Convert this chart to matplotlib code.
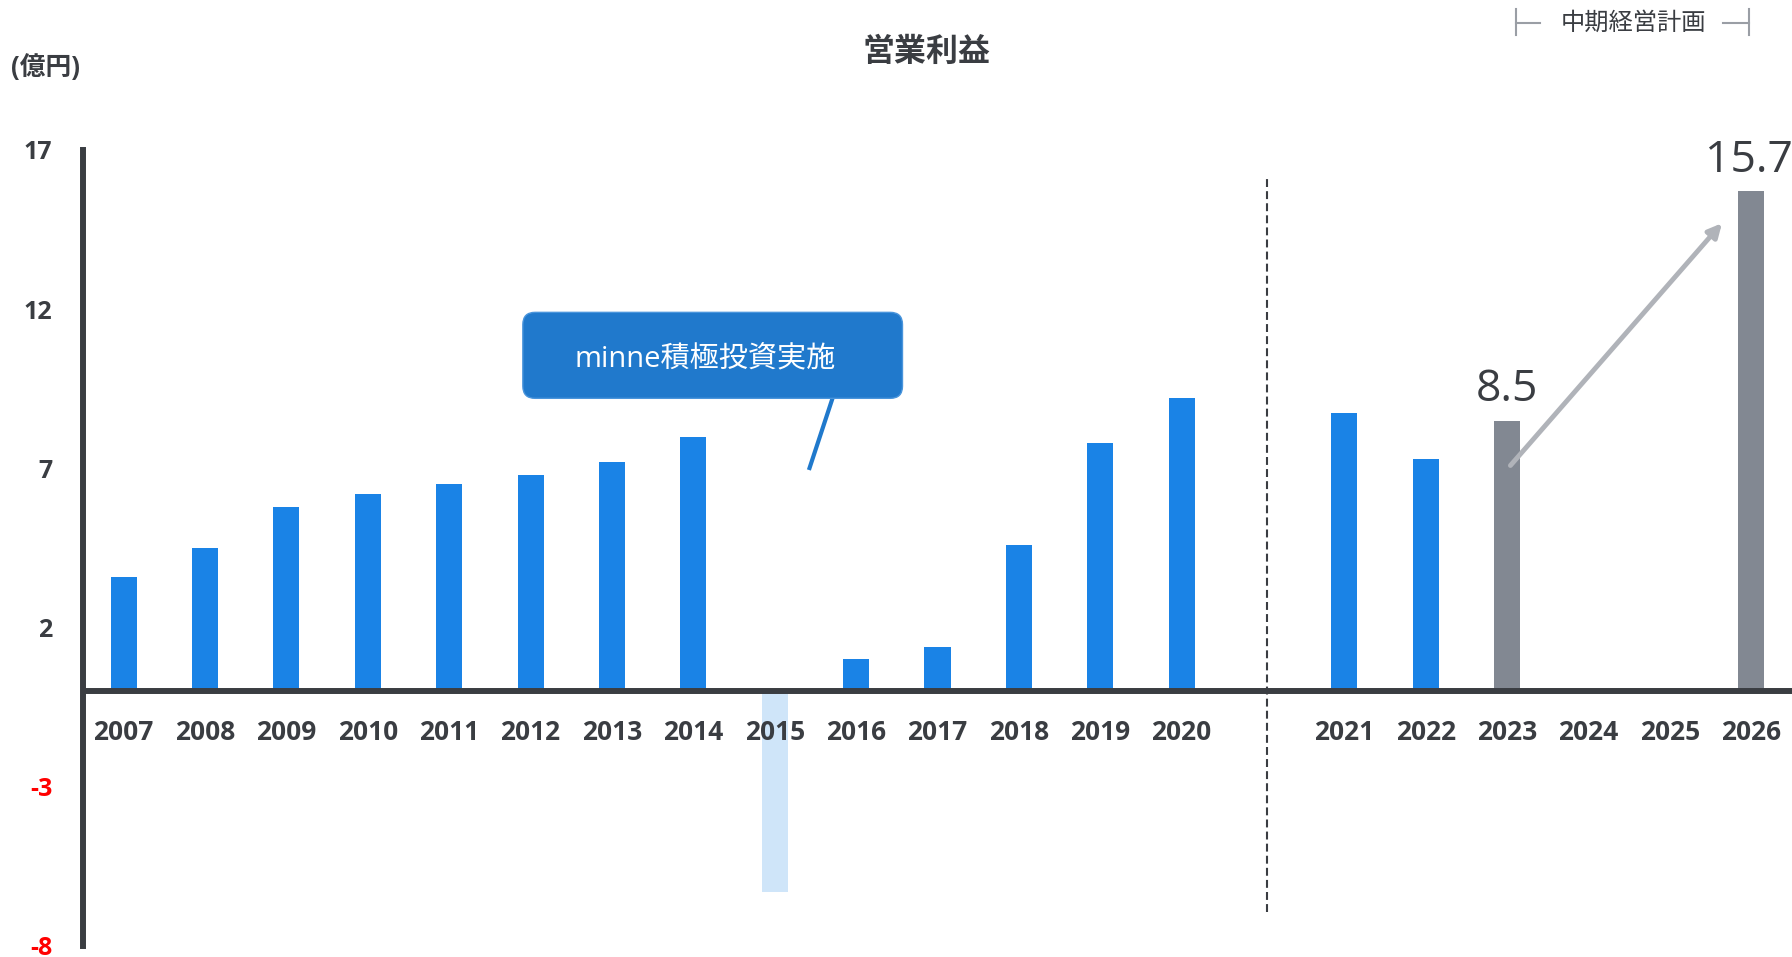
import matplotlib.pyplot as plt
from matplotlib.patches import FancyBboxPatch

plt.rcParams['font.family'] = ['Open Sans', 'Noto Sans CJK JP', 'DejaVu Sans']

# data (億円)
years = ['2007', '2008', '2009', '2010', '2011', '2012', '2013', '2014', '2015', '2016',
         '2017', '2018', '2019', '2020', '', '2021', '2022', '2023', '2024', '2025', '2026']
profit = [3.6, 4.5, 5.8, 6.2, 6.5, 6.8, 7.2, 8.0, -6.3, 1.0,
          1.4, 4.6, 7.8, 9.2, 0, 8.75, 7.3, 8.5, 0, 0, 15.7]
kind = ['actual'] * 8 + ['loss'] + ['actual'] * 5 + ['gap'] + ['actual'] * 2 + ['plan'] * 4
yticks = [17, 12, 7, 2, -3, -8]

colors = {'actual': '#1a83e6', 'loss': '#cfe5f9', 'plan': '#828892', 'gap': 'none'}
dark = '#3a3d42'

fig = plt.figure(figsize=(17.92, 9.57), dpi=100)
ax = fig.add_axes([0.0463, 0.0115, 0.9537, 0.8318])

x = list(range(len(years)))
ax.bar(x, profit, width=0.32, color=[colors[k] for k in kind], zorder=2)

ax.set_xlim(-0.5, 20.5)
ax.set_ylim(-8, 17)

# axes lines
for s in ['top', 'right', 'bottom']:
    ax.spines[s].set_visible(False)
ax.spines['left'].set_linewidth(4.3)
ax.spines['left'].set_color(dark)
ax.axhline(0, color=dark, lw=4.3, zorder=3)

ax.set_xticks([])
ax.set_yticks(yticks)
ax.set_yticklabels([str(v) for v in yticks], fontsize=18, fontweight='bold')
ax.tick_params(axis='y', length=0, pad=22)
for lab, v in zip(ax.get_yticklabels(), yticks):
    lab.set_color('#ff0000' if v < 0 else dark)

# year labels under the zero line
for i, y in enumerate(years):
    ax.text(i, -1.31, y, ha='center', va='center', fontsize=19, fontweight='bold',
            color=dark, zorder=4)

# divider between actual and plan
ax.plot([14.05, 14.05], [-6.93, 16.15], color=dark, lw=1.5, ls=(0, (3.8, 2.0)), zorder=1)

# value labels
ax.text(17, 9.46, '8.5', ha='center', va='center', fontsize=32, color=dark)
ax.text(19.97, 16.66, '15.7', ha='center', va='center', fontsize=32, color=dark)

# growth arrow
ax.annotate('', xy=(19.64, 14.7), xytext=(17.04, 7.09),
            arrowprops=dict(arrowstyle='-|>,head_length=0.8,head_width=0.4',
                            color='#b0b3b9', lw=3.5, shrinkA=0, shrinkB=0), zorder=3)

# callout
box = FancyBboxPatch((4.905, 9.2), 9.57 - 4.905, 11.9 - 9.2,
                     boxstyle='round,pad=0,rounding_size=0.15', mutation_aspect=2.56,
                     facecolor='#2079cc', edgecolor='#4a95dc', lw=1, zorder=5)
ax.add_patch(box)
ax.plot([8.71, 8.42], [9.2, 6.95], color='#2079cc', lw=3, solid_capstyle='butt', zorder=4)
ax.text(7.14, 10.42, 'minne積極投資実施', ha='center', va='center', fontsize=21,
        color='white', zorder=6)

# headings
fig.text(926 / 1792, 1 - 52 / 957, '営業利益', ha='center', va='center', fontsize=23,
         fontweight='bold', color=dark)
fig.text(11 / 1792, 1 - 67 / 957, '(億円)', ha='left', va='center', fontsize=18.5,
         fontweight='bold', color=dark)
fig.text(1633 / 1792, 1 - 24 / 957, '中期経営計画', ha='center', va='center', fontsize=17.5,
         color=dark)
g = '#9a9ea5'
fig.add_artist(plt.Line2D([1516 / 1792] * 2, [1 - 9 / 957, 1 - 35 / 957], color=g, lw=1.5))
fig.add_artist(plt.Line2D([1516 / 1792, 1540 / 1792], [1 - 23 / 957] * 2, color=g, lw=1.5))
fig.add_artist(plt.Line2D([1749 / 1792] * 2, [1 - 9 / 957, 1 - 35 / 957], color=g, lw=1.5))
fig.add_artist(plt.Line2D([1723 / 1792, 1749 / 1792], [1 - 23 / 957] * 2, color=g, lw=1.5))

fig.savefig('out.png', dpi=100)
